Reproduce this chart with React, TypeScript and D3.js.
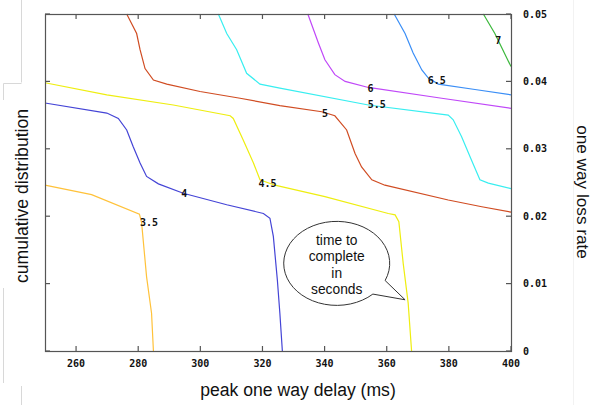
import * as d3 from "d3";
import React, { useEffect, useRef } from "react";

// contour lines: [peak one way delay (ms), one way loss rate]
const contour35 = [
  [250, 0.0246], [265, 0.0232], [280.4, 0.0203], [281.1, 0.019],
  [282.7, 0.011], [284.3, 0.0056], [284.9, 0],
];
const contour4 = [
  [250, 0.0368], [269.9, 0.0353], [273.6, 0.0345], [276.3, 0.0328],
  [278.4, 0.0303], [280.6, 0.0279], [282.7, 0.0259], [286.5, 0.0248],
  [294.5, 0.0234], [308.5, 0.0217], [320.3, 0.0204], [322.4, 0.0197],
  [323.5, 0.017], [324.8, 0.0105], [325.6, 0.0056], [326.4, 0],
];
const contour45 = [
  [250, 0.0398], [269.9, 0.038], [291.3, 0.0365], [309.6, 0.0349],
  [310.6, 0.0345], [313.8, 0.0313], [317.1, 0.0279], [319.2, 0.0254],
  [324, 0.0246], [340.1, 0.0229], [360.5, 0.0204], [362.7, 0.0202],
  [363.9, 0.0192], [365.3, 0.013], [366.9, 0.0071], [368, 0],
];
const contour5 = [
  [276.3, 0.05], [279.5, 0.0471], [280.6, 0.0447], [282.2, 0.0419],
  [284.9, 0.0402], [289.2, 0.0396], [299.9, 0.0385], [312.8, 0.0375],
  [325.6, 0.0364], [339.1, 0.0355], [343.3, 0.0349], [347.1, 0.0328],
  [349.8, 0.0293], [351.9, 0.0273], [355.2, 0.0254], [359.4, 0.0246],
  [379.8, 0.0224], [390.6, 0.0214], [400, 0.0206],
];
const contour55 = [
  [305.8, 0.05], [308.5, 0.0471], [311.7, 0.0447], [314.9, 0.0412],
  [319.2, 0.0396], [325.6, 0.039], [354.1, 0.0365], [379.8, 0.035],
  [381.4, 0.0343], [384.1, 0.0318], [387.3, 0.0283], [390, 0.0254],
  [392.7, 0.0249], [400, 0.0241],
];
const contour6 = [
  [334.6, 0.05], [338, 0.0457], [340.1, 0.0432], [343.3, 0.041],
  [346.6, 0.04], [354.1, 0.0391], [377.7, 0.0375], [400, 0.036],
];
const contour65 = [
  [362.4, 0.05], [365.9, 0.0471], [368.5, 0.0442], [371.3, 0.0417],
  [373.4, 0.0405], [376.6, 0.0396], [388.4, 0.0388], [400, 0.038],
];
const contour7 = [
  [391.1, 0.05], [394.8, 0.0471], [400, 0.0422],
];

const levels = ["3.5", "4", "4.5", "5", "5.5", "6", "6.5", "7"];
const levelColors = [
  "#ffc23a", "#4444d6", "#eeee10", "#d04c22",
  "#38eef0", "#c048f8", "#3a8ef6", "#3cb83c",
];
const contours = [
  contour35, contour4, contour45, contour5,
  contour55, contour6, contour65, contour7,
];
// where gnuplot put each level label
const labelSpots = [
  [283.5, 0.019], [294.8, 0.0233], [321.6, 0.0249], [340.1, 0.0353],
  [356.8, 0.0365], [354.8, 0.0389], [376.1, 0.0401], [395.9, 0.046],
];

const xTicks = [260, 280, 300, 320, 340, 360, 380, 400];
const yTicks = [0, 0.01, 0.02, 0.03, 0.04, 0.05];

const calloutLines = ["time to", "complete", "in", "seconds"];
const calloutCenter = [343.9, 0.013];
const calloutTip = [365.9, 0.0076];

function ContourChart() {
  const ref = useRef(null);

  useEffect(() => {
    const root = ref.current;
    d3.select(root).selectAll("*").remove();

    const W = 592,
      H = 405;
    const margin = { top: 14, right: 81, bottom: 54, left: 45 };
    const width = W - margin.left - margin.right,
      height = H - margin.top - margin.bottom;

    const x = d3.scaleLinear().domain([250, 400]).range([0, width]);
    const y = d3.scaleLinear().domain([0, 0.05]).range([height, 0]);

    const svg = d3
      .select(root)
      .append("svg")
      .attr("width", W)
      .attr("height", H)
      .style("display", "block")
      .style("background", "#fff");

    // faint leftovers of the slide this was cut from
    const faint = svg.append("g").attr("stroke", "#d8d8d8").attr("fill", "none");
    faint.append("path").attr("d", "M21.5,0V82.5M3.5,83.5H21.5M3.5,83.5V100");
    faint.append("path").attr("d", "M3.5,288V383M21.5,386V405");
    svg
      .append("line")
      .attr("x1", 573.5)
      .attr("x2", 573.5)
      .attr("y1", 0)
      .attr("y2", H)
      .attr("stroke", "#f2f2f2");

    const chart = svg
      .append("g")
      .attr("transform", "translate(" + margin.left + "," + margin.top + ")");

    const line = d3
      .line()
      .x((d) => x(d[0]))
      .y((d) => y(d[1]));

    chart
      .selectAll(".contour")
      .data(contours)
      .enter()
      .append("path")
      .attr("class", "contour")
      .attr("d", (d) => line(d))
      .attr("fill", "none")
      .attr("stroke", (d, i) => levelColors[i])
      .attr("stroke-width", 1.2);

    chart
      .selectAll(".lvl")
      .data(labelSpots)
      .enter()
      .append("text")
      .attr("class", "lvl")
      .attr("x", (d) => x(d[0]))
      .attr("y", (d) => y(d[1]))
      .attr("dy", "0.35em")
      .attr("text-anchor", "middle")
      .attr("font-family", "DejaVu Sans Mono")
      .attr("font-weight", "bold")
      .attr("font-size", "10px")
      .attr("fill", "#111")
      .text((d, i) => levels[i]);

    // frame and mirrored inward ticks
    chart
      .append("rect")
      .attr("x", 0.5)
      .attr("y", 0.5)
      .attr("width", width)
      .attr("height", height)
      .attr("fill", "none")
      .attr("stroke", "#555")
      .attr("stroke-width", 1.2);

    const tk = chart.append("g").attr("stroke", "#555").attr("stroke-width", 1.2);
    xTicks.forEach((v) => {
      tk.append("line").attr("x1", x(v)).attr("x2", x(v)).attr("y1", height).attr("y2", height - 5);
      tk.append("line").attr("x1", x(v)).attr("x2", x(v)).attr("y1", 0).attr("y2", 5);
    });
    yTicks.forEach((v) => {
      tk.append("line").attr("x1", 0).attr("x2", 5).attr("y1", y(v)).attr("y2", y(v));
      tk.append("line").attr("x1", width).attr("x2", width - 5).attr("y1", y(v)).attr("y2", y(v));
    });

    chart
      .selectAll(".xl")
      .data(xTicks)
      .enter()
      .append("text")
      .attr("x", (d) => x(d))
      .attr("y", height + 12)
      .attr("dy", "0.35em")
      .attr("text-anchor", "middle")
      .attr("font-family", "DejaVu Sans Mono")
      .attr("font-weight", "bold")
      .attr("font-size", "10px")
      .attr("fill", "#111")
      .text((d) => d);

    chart
      .selectAll(".yl")
      .data(yTicks)
      .enter()
      .append("text")
      .attr("x", width + 12)
      .attr("y", (d) => y(d))
      .attr("dy", "0.35em")
      .attr("font-family", "DejaVu Sans Mono")
      .attr("font-weight", "bold")
      .attr("font-size", "10px")
      .attr("fill", "#111")
      .text((d) => (d === 0 ? "0" : d3.format(".2f")(d)));

    // axis titles
    svg
      .append("text")
      .attr("transform", "translate(28,196) rotate(-90)")
      .attr("text-anchor", "middle")
      .attr("font-family", "Liberation Sans")
      .attr("font-size", "17.6px")
      .attr("fill", "#111")
      .text("cumulative distribution");

    svg
      .append("text")
      .attr("x", 298)
      .attr("y", 396)
      .attr("text-anchor", "middle")
      .attr("font-family", "Liberation Sans")
      .attr("font-size", "17.6px")
      .attr("fill", "#111")
      .text("peak one way delay (ms)");

    svg
      .append("text")
      .attr("transform", "translate(577,192) rotate(90)")
      .attr("text-anchor", "middle")
      .attr("font-family", "Liberation Sans")
      .attr("font-size", "17.2px")
      .attr("fill", "#111")
      .text("one way loss rate");

    // speech bubble
    const cx = x(calloutCenter[0]),
      cy = y(calloutCenter[1]);
    const rx = 53,
      ry = 42;
    const tipX = x(calloutTip[0]),
      tipY = y(calloutTip[1]);
    const a1 = 0.42,
      a2 = 0.82;
    const p1 = [cx + rx * Math.cos(a1), cy + ry * Math.sin(a1)];
    const p2 = [cx + rx * Math.cos(a2), cy + ry * Math.sin(a2)];
    const bubble =
      "M" + p1[0] + "," + p1[1] +
      " A" + rx + "," + ry + " 0 1 0 " + p2[0] + "," + p2[1] +
      " L" + tipX + "," + tipY + " Z";
    chart
      .append("path")
      .attr("d", bubble)
      .attr("fill", "#fff")
      .attr("stroke", "#333")
      .attr("stroke-width", 1);

    chart
      .selectAll(".cl")
      .data(calloutLines)
      .enter()
      .append("text")
      .attr("x", cx)
      .attr("y", (d, i) => cy - 23.5 + i * 16.5)
      .attr("dy", "0.35em")
      .attr("text-anchor", "middle")
      .attr("font-family", "Liberation Sans")
      .attr("font-size", "13.8px")
      .attr("fill", "#111")
      .text((d) => d);
  }, []);

  return <div ref={ref} style={{ position: "absolute", left: 0, top: 0 }} />;
}

export default function App() {
  return <ContourChart />;
}
